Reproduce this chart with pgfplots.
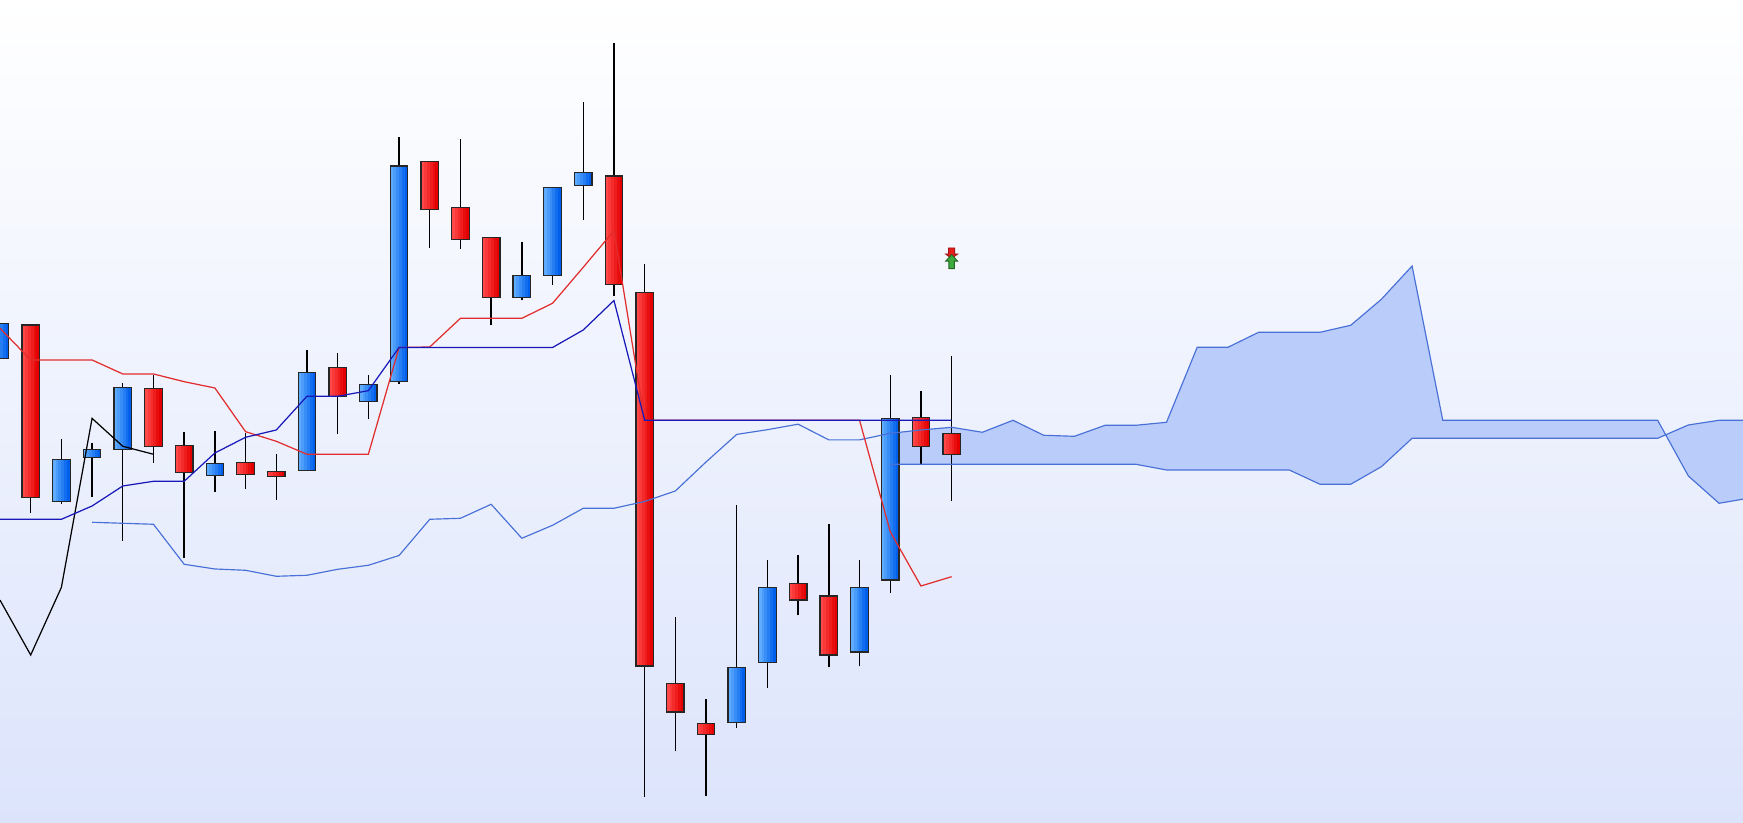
\documentclass[border=0pt]{standalone}
\usepackage{pgfplots}
\usepackage{pgfplotstable}
\usepgfplotslibrary{fillbetween}
\pgfplotsset{compat=1.18}

\definecolor{bgbot}{RGB}{220,228,252}
\definecolor{bullL}{RGB}{95,172,255}
\definecolor{bullR}{RGB}{0,95,235}
\definecolor{bearL}{RGB}{255,72,72}
\definecolor{bearR}{RGB}{228,0,0}
\definecolor{tenkan}{RGB}{225,45,45}
\definecolor{kijun}{RGB}{25,25,185}
\definecolor{span}{RGB}{72,112,215}
\definecolor{kumo}{RGB}{186,204,250}
\definecolor{sigup}{RGB}{60,170,60}
\definecolor{sigdn}{RGB}{232,30,30}

% signal arrows (1px = 0.2845pt)
\pgfdeclareplotmark{upArrow}{%
  \pgfpathmoveto{\pgfqpoint{0pt}{1.99pt}}%
  \pgfpathlineto{\pgfqpoint{1.71pt}{0.14pt}}%
  \pgfpathlineto{\pgfqpoint{0.77pt}{0.14pt}}%
  \pgfpathlineto{\pgfqpoint{0.77pt}{-1.99pt}}%
  \pgfpathlineto{\pgfqpoint{-0.77pt}{-1.99pt}}%
  \pgfpathlineto{\pgfqpoint{-0.77pt}{0.14pt}}%
  \pgfpathlineto{\pgfqpoint{-1.71pt}{0.14pt}}%
  \pgfpathclose\pgfusepathqfillstroke}
\pgfdeclareplotmark{downArrow}{%
  \pgfpathmoveto{\pgfqpoint{-0.85pt}{1.28pt}}%
  \pgfpathlineto{\pgfqpoint{0.85pt}{1.28pt}}%
  \pgfpathlineto{\pgfqpoint{0.85pt}{-0.43pt}}%
  \pgfpathlineto{\pgfqpoint{1.71pt}{-0.43pt}}%
  \pgfpathlineto{\pgfqpoint{0pt}{-1.71pt}}%
  \pgfpathlineto{\pgfqpoint{-1.71pt}{-0.43pt}}%
  \pgfpathlineto{\pgfqpoint{-0.85pt}{-0.43pt}}%
  \pgfpathclose\pgfusepathqfillstroke}

% candles: index open high low close
\pgfplotstableread{
i o h l c
0 464.7 499.7 464.7 499.7
2 321.7 384 319.3 363.7
3 365.7 379.7 326.3 373.7
4 373.7 439.7 282.3 435.7
7 347.7 392 331.3 359.7
10 352.7 473 352.7 450.7
12 421.7 448 404.3 438.7
13 441.7 686 438.7 657
17 525.7 581 522.7 547.7
18 547.7 635.7 538.3 635.7
19 637.7 721 603.3 650.7
24 100.8 317.7 95 155.6
25 160.7 263.2 134.6 235.6
28 170.9 263.2 156.7 235.6
29 242.9 448.2 229.8 404.6
}\bull
\pgfplotstableread{
i o h l c
1 498 498 310.3 325.7
5 434.7 448 360.3 376.7
6 377.7 390.7 265.3 350.7
8 360.7 389.7 334 348.7
9 351.7 369 323 346.7
11 455.7 470 389 426.7
14 661.7 661.7 575.3 613.7
15 615.7 684 574.3 583.7
16 585.7 585.7 497.7 525.7
20 647 780 527.3 538.7
21 530.7 559 25.9 157.1
22 139.7 206.1 71.7 110.9
23 99.7 124 27 88.8
26 239.6 267.9 207.6 222.9
27 226.9 299.2 155.6 168
30 405.7 432 359 376.7
31 389.7 467 322.3 368.7
}\bear
% conversion and base lines
\pgfplotstableread{
i t k
0 494.7 303.7
1 463 303.7
2 463 303.7
3 463 317
4 449 337
5 449 341.7
6 441.3 341.7
7 435 370
8 391.3 385.7
9 381.7 393
10 368.7 426.7
11 368.7 426.7
12 368.7 432.3
13 475.5 475.5
14 476 475.5
15 504.7 475.5
16 504.7 475.5
17 504.7 475.5
18 519.7 475.5
19 555.7 493
20 592.3 522.5
21 402.8 402.8
22 402.8 402.8
23 402.8 402.8
24 402.8 402.8
25 402.8 402.8
26 402.8 402.8
27 402.8 402.8
28 402.8 402.8
29 291.3 402.8
30 237 402.8
31 246.3 402.8
}\tk
% lagging span
\pgfplotstableread{
i v
0 222.9
1 168
2 235.6
3 404.6
4 376.7
5 368.7
}\lag
% leading span A
\pgfplotstableread{
i a
3 300.7
4 299.7
5 298.7
6 258.7
7 254
8 252.7
9 246.7
10 247.7
11 253.7
12 257.7
13 267.5
14 303.7
15 304.7
16 318.7
17 284.7
18 297.7
19 314.7
20 314.7
21 321.5
22 332
23 361
24 388.6
25 393.3
26 398.8
27 383.1
28 383.1
29 389.7
30 393
31 395.7
32 390.7
33 402.7
34 387.7
35 386.7
36 397.7
37 397.7
38 400.7
39 475.7
40 475.7
41 490.7
42 490.7
43 490.7
44 497.7
45 523.7
46 557
47 402.7
48 402.7
49 402.7
50 402.7
51 402.7
52 402.7
53 402.7
54 402.7
55 347
56 319.7
57 325
}\spanA
% leading span B
\pgfplotstableread{
i b
29 358.7
30 358.7
31 358.7
32 358.7
33 358.7
34 358.7
35 358.7
36 358.7
37 358.7
38 353
39 353
40 353
41 353
42 353
43 338.7
44 338.7
45 356.3
46 384.7
47 384.7
48 384.7
49 384.7
50 384.7
51 384.7
52 384.7
53 384.7
54 384.7
55 398
56 402.7
57 402.7
}\spanB

\pgfplotsset{
  chart/.style={width=17.43cm, height=8.23cm, scale only axis,
    xmin=0, xmax=56.78, ymin=0, ymax=823, enlargelimits=false},
  wick/.style={mark=none, draw=none, forget plot,
    error bars/.cd, y dir=plus, y explicit, error mark=none,
    error bar style={draw=black, line width=0.4pt}},
  body/.style={mark=none, draw=none, forget plot,
    error bars/.cd, y dir=plus, y explicit, error mark=none,
    error bar style={draw=#1, line width=0.86pt}},
}
% one vertical strip of the candle bodies (shading left to right)
\newcommand{\strip}[3]{%
  \addplot[body={#3}] table[x expr=\thisrow{i}+#2,
    y expr={min(\thisrow{o},\thisrow{c})},
    y error expr={abs(\thisrow{c}-\thisrow{o})}] {#1};}

\begin{document}
\begin{tikzpicture}
% background, cloud, wicks and body fill
\begin{axis}[chart, axis line style={draw=none}, ticks=none,
  axis background/.style={top color=white, bottom color=bgbot}]
\addplot[draw=none, name path=A] table[x=i, y=a] {\spanA};
\addplot[draw=none, name path=B] table[x=i, y=b] {\spanB};
\addplot[kumo] fill between[of=A and B, soft clip={domain=29:57}];
\addplot[wick] table[x=i, y=l, y error expr=\thisrow{h}-\thisrow{l}] {\bull};
\addplot[wick] table[x=i, y=l, y error expr=\thisrow{h}-\thisrow{l}] {\bear};
\strip{\bull}{-0.2347}{bullL}
\strip{\bull}{-0.1408}{bullR!20!bullL}
\strip{\bull}{-0.0469}{bullR!40!bullL}
\strip{\bull}{0.0469}{bullR!60!bullL}
\strip{\bull}{0.1408}{bullR!80!bullL}
\strip{\bull}{0.2347}{bullR}
\strip{\bear}{-0.2347}{bearL}
\strip{\bear}{-0.1408}{bearR!20!bearL}
\strip{\bear}{-0.0469}{bearR!40!bearL}
\strip{\bear}{0.0469}{bearR!60!bearL}
\strip{\bear}{0.1408}{bearR!80!bearL}
\strip{\bear}{0.2347}{bearR}
\end{axis}
% rising body outlines
\begin{axis}[chart, hide axis, ybar stacked, bar width=0.57]
\addplot[draw=none, fill=none] table[x=i, y expr={min(\thisrow{o},\thisrow{c})}] {\bull};
\addplot[draw=black!85, fill=none, line width=0.36pt]
  table[x=i, y expr={abs(\thisrow{c}-\thisrow{o})}] {\bull};
\end{axis}
% falling body outlines
\begin{axis}[chart, hide axis, ybar stacked, bar width=0.57]
\addplot[draw=none, fill=none] table[x=i, y expr={min(\thisrow{o},\thisrow{c})}] {\bear};
\addplot[draw=black!85, fill=none, line width=0.36pt]
  table[x=i, y expr={abs(\thisrow{c}-\thisrow{o})}] {\bear};
\end{axis}
% indicator lines and signal
\begin{axis}[chart, hide axis]
\addplot[span, line width=0.33pt, mark=none] table[x=i, y=a] {\spanA};
\addplot[span, line width=0.33pt, mark=none] table[x=i, y=b] {\spanB};
\addplot[black, line width=0.35pt, mark=none] table[x=i, y=v] {\lag};
\addplot[tenkan, line width=0.35pt, mark=none] table[x=i, y=t] {\tk};
\addplot[kijun, line width=0.35pt, mark=none] table[x=i, y=k] {\tk};
\addplot[only marks, mark=downArrow, mark options={fill=sigdn, draw=sigdn!70!black, line width=0.25pt}]
  coordinates {(31,570.5)};
\addplot[only marks, mark=upArrow, mark options={fill=sigup, draw=sigup!60!black, line width=0.25pt}]
  coordinates {(31,561.3)};
\end{axis}
\end{tikzpicture}
\end{document}
